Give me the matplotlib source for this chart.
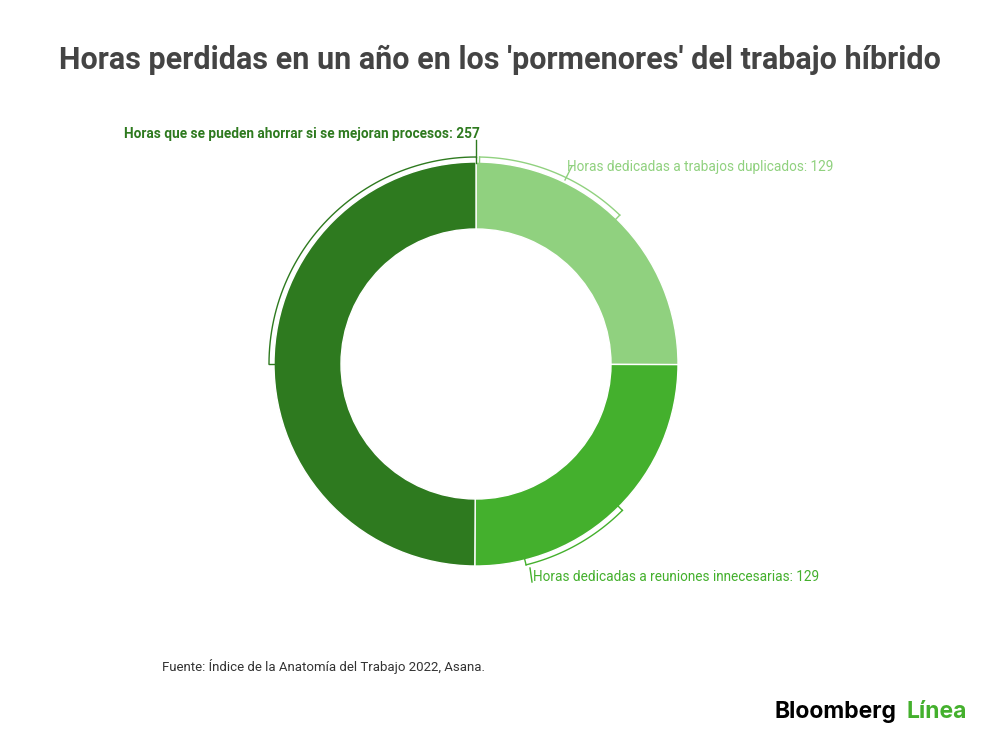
import matplotlib.pyplot as plt
import numpy as np

labels = ['Horas dedicadas a trabajos duplicados',
          'Horas dedicadas a reuniones innecesarias',
          'Horas que se pueden ahorrar si se mejoran procesos']
values = [129, 129, 257]
colors = ['#90d17f', '#44b02d', '#2e7a1f']
label_colors = ['#90d17f', '#44b02d', '#2e7a1f']

plt.rcParams['font.family'] = ['Roboto', 'DejaVu Sans']
fig = plt.figure(figsize=(10, 7.44), dpi=100)
ax = fig.add_axes([0, 0, 1, 1])

cx, cy, R = 476, 364, 202
# y axis is flipped, so data-counterclockwise reads as clockwise on screen
wedges, _ = ax.pie(values, colors=colors, startangle=-90, counterclock=True,
                   center=(cx, cy), radius=R, frame=True,
                   wedgeprops=dict(width=R - 135, edgecolor='white', linewidth=1))
ax.set_xlim(0, 1000)
ax.set_ylim(744, 0)
ax.set_aspect('equal')
ax.axis('off')

# bracket arcs, angles in screen sense
def bracket(a0, a1, r, color, tick=6):
    t = np.radians(np.linspace(a0, a1, 60))
    ax.plot(cx + r * np.cos(t), cy - r * np.sin(t), color=color, lw=1)
    for a in (a0, a1):
        ta = np.radians(a)
        ax.plot([cx + r * np.cos(ta), cx + (r - tick) * np.cos(ta)],
                [cy - r * np.sin(ta), cy - (r - tick) * np.sin(ta)], color=color, lw=1)

bracket(89, 46, 207, label_colors[0])
bracket(-45, -76, 207, label_colors[1])
bracket(90, 180, 207, label_colors[2])
ax.plot([476, 476], [157, 140], color=label_colors[2], lw=1)
ax.plot([565, 572], [180, 166], color=label_colors[0], lw=1)
ax.plot([530, 532], [568, 582], color=label_colors[1], lw=1)

ax.text(567, 167, f'{labels[0]}: {values[0]}', color=label_colors[0], fontsize=9.8, va='center')
ax.text(533, 577, f'{labels[1]}: {values[1]}', color=label_colors[1], fontsize=9.8, va='center')
ax.text(124, 134, f'{labels[2]}: {values[2]}', color=label_colors[2], fontsize=9.8,
        va='center', fontweight='bold')

fig.text(0.5, 1 - 60 / 744, "Horas perdidas en un año en los 'pormenores' del trabajo híbrido",
         ha='center', va='center', fontsize=22, fontweight='bold', color='#444444')
fig.text(0.162, 1 - 666 / 744, 'Fuente: Índice de la Anatomía del Trabajo 2022, Asana.',
         fontsize=9.5, color='#333333', va='center')
fig.text(0.775, 1 - 712 / 744, 'Bloomberg', fontsize=16.5, fontweight='bold', color='black',
         va='center', family=['Inter', 'DejaVu Sans'])
fig.text(0.967, 1 - 712 / 744, 'Línea', fontsize=16.5, fontweight='bold', color='#44b02d',
         va='center', ha='right', family=['Inter', 'DejaVu Sans'])

fig.savefig('out.png', dpi=100)
